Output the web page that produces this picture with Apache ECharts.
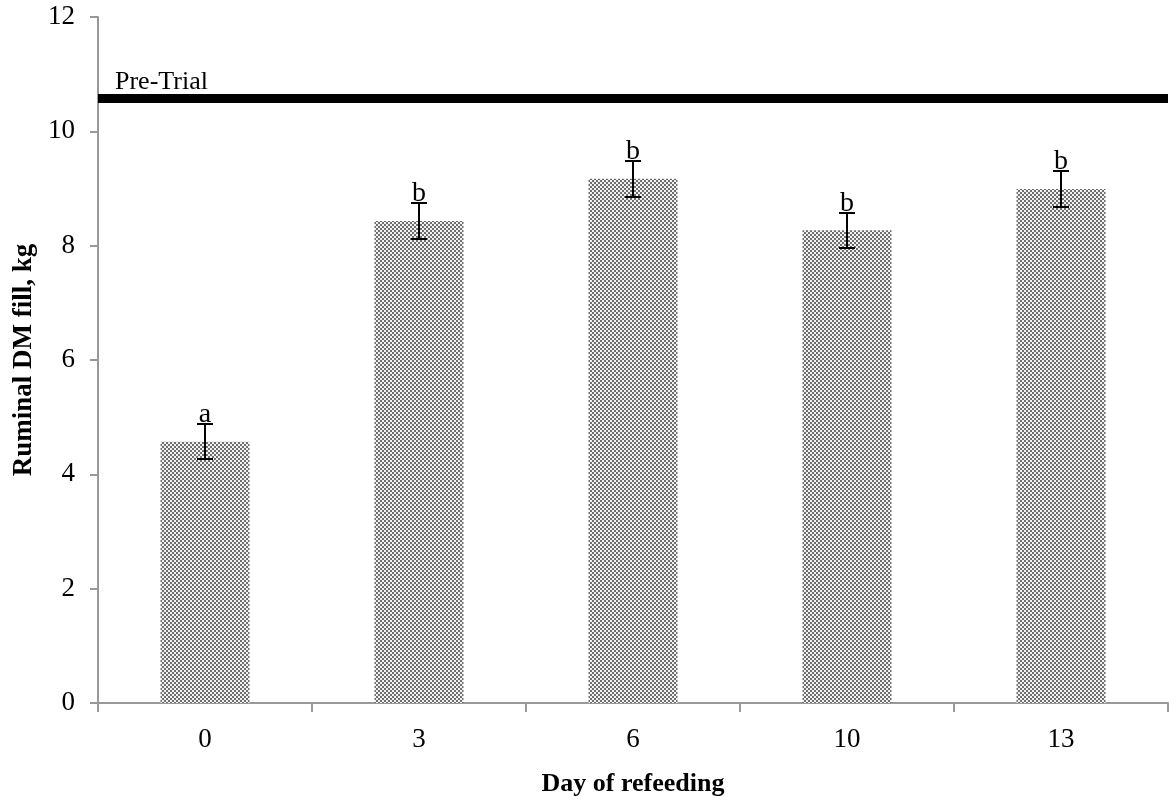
<!DOCTYPE html>
<html>
<head>
<meta charset="utf-8">
<script src="https://cdn.jsdelivr.net/npm/echarts@6/dist/echarts.min.js"></script>
<style>html,body{margin:0;padding:0;background:#fff}#c{width:1169px;height:796px}</style>
</head>
<body>
<div id="c"></div>
<script>
// Data
const categories = ['0', '3', '6', '10', '13'];
const fillValues = [4.57, 8.43, 9.17, 8.27, 8.99];
const errValues = [0.31, 0.32, 0.31, 0.31, 0.31];
const letters = ['a', 'b', 'b', 'b', 'b'];
const preTrial = 10.58;
const yTicks = [0, 2, 4, 6, 8, 10, 12];

// Checker pattern
const pc = document.createElement('canvas');
pc.width = 4; pc.height = 4;
const pctx = pc.getContext('2d');
pctx.fillStyle = '#f2f2f2'; pctx.fillRect(0, 0, 4, 4);
pctx.fillStyle = '#6e6e6e'; pctx.fillRect(0, 0, 2, 2); pctx.fillRect(2, 2, 2, 2);

const FONT = '"Liberation Serif", "Times New Roman", serif';
const chart = echarts.init(document.getElementById('c'));
const errData = fillValues.map((v, i) => [i, v, errValues[i]]);

chart.setOption({
  animation: false,
  grid: { left: 98, right: 1, top: 17, bottom: 93, containLabel: false, outerBoundsMode: 'none' },
  xAxis: {
    type: 'category', data: categories,
    name: 'Day of refeeding', nameLocation: 'middle', nameGap: 68,
    nameTextStyle: { fontFamily: FONT, fontWeight: 'bold', fontSize: 26, color: '#000' },
    axisLine: { lineStyle: { color: '#999', width: 2 } },
    axisTick: { show: true, length: 9, lineStyle: { color: '#999', width: 2 } },
    axisLabel: { fontFamily: FONT, fontSize: 27, color: '#000', margin: 23 }
  },
  yAxis: {
    type: 'value', min: yTicks[0], max: yTicks[yTicks.length - 1], interval: 2,
    name: 'Ruminal DM fill, kg', nameLocation: 'middle', nameGap: 57, nameRotate: 90,
    nameTextStyle: { fontFamily: FONT, fontWeight: 'bold', fontSize: 27, color: '#000' },
    axisLine: { show: true, lineStyle: { color: '#999', width: 2 } },
    axisTick: { show: true, length: 8, lineStyle: { color: '#999', width: 2 } },
    splitLine: { show: false },
    axisLabel: { fontFamily: FONT, fontSize: 27, color: '#000', margin: 23 }
  },
  series: [
    {
      type: 'bar', data: fillValues, barWidth: 89,
      itemStyle: { color: { image: pc, repeat: 'repeat' } },
      markLine: {
        silent: true, symbol: ['none', 'none'],
        lineStyle: { color: '#000', width: 9, type: 'solid' },
        label: {
          show: true, position: 'insideStartTop', formatter: 'Pre-Trial',
          fontFamily: FONT, fontSize: 26, color: '#000', distance: [17, 3]
        },
        data: [{ yAxis: preTrial }]
      },
      z: 2
    },
    {
      type: 'custom', data: errData, z: 5,
      renderItem: function (params, api) {
        const i = api.value(0), v = api.value(1), e = api.value(2);
        const top = api.coord([i, v + e]);
        const bot = api.coord([i, v - e]);
        const x = Math.round(top[0]);
        const yt = Math.round(top[1]), yb = Math.round(bot[1]);
        const hw = 8;
        const ls = { stroke: '#000', lineWidth: 2 };
        return {
          type: 'group',
          children: [
            { type: 'line', shape: { x1: x, y1: yt, x2: x, y2: yb }, style: ls },
            { type: 'line', shape: { x1: x - hw, y1: yt, x2: x + hw, y2: yt }, style: ls },
            { type: 'line', shape: { x1: x - hw, y1: yb, x2: x + hw, y2: yb }, style: ls },
            { type: 'text', style: { text: letters[params.dataIndex], x: x, y: yt + 5,
              align: 'center', verticalAlign: 'bottom', font: '28px ' + FONT, fill: '#000' } }
          ]
        };
      }
    }
  ]
});
</script>
</body>
</html>
